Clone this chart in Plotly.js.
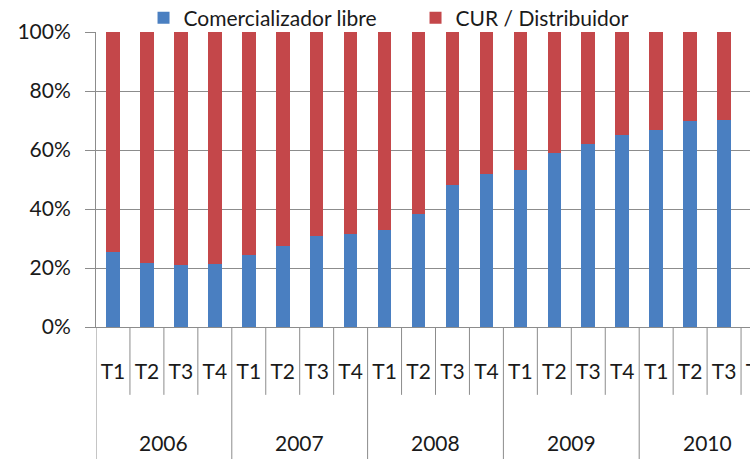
<!DOCTYPE html>
<html>
<head>
<meta charset="utf-8">
<script src="https://cdn.plot.ly/plotly-3.0.1.min.js"></script>
<style>
  html, body { margin: 0; padding: 0; overflow: hidden; background: #fff; }
  #chart { width: 800px; height: 459px; }
</style>
</head>
<body>
<div id="chart"></div>
<script>
// values (share of supply, %)
const years = ['2006', '2007', '2008', '2009', '2010'];
const quarters = ['T1', 'T2', 'T3', 'T4'];
const libre = [25.4, 21.7, 21.1, 21.3, 24.5, 27.6, 30.8, 31.6, 32.9, 38.3,
               48.2, 51.8, 53.1, 59.1, 61.9, 65.1, 66.9, 69.7, 70.3, 71.0];
const cur = libre.map(v => 100 - v);

const idx = libre.map((_, i) => i);
const tickText = idx.map(i => quarters[i % 4]);

const gray = '#8c8c8c';
const font = { family: 'Lato, "Open Sans", sans-serif', size: 21, color: '#1a1a1a' };

const libreTrace = {
    x: idx,
    y: libre,
    name: 'Comercializador libre',
    type: 'bar',
    marker: { color: '#4a7fc1' }
};

const curTrace = {
    x: idx,
    y: cur,
    name: 'CUR / Distribuidor',
    type: 'bar',
    marker: { color: '#c4474a' }
};

// separators under the x axis: short ones between quarters, long ones between years
const shapes = [];
for (let i = 0; i <= idx.length; i++) {
    const yearEdge = i % 4 === 0;
    shapes.push({
        type: 'line', xref: 'x', yref: 'paper',
        x0: i - 0.5, x1: i - 0.5,
        y0: 0, y1: yearEdge ? -0.5 : -0.23,
        line: { color: gray, width: 1 }
    });
}

const annotations = years.map((yr, k) => ({
    text: yr, xref: 'x', yref: 'paper',
    x: k * 4 + 1.5, y: -0.39, yanchor: 'middle',
    showarrow: false, font: font
}));

const layout = {
    width: 800,
    height: 459,
    margin: { t: 32, b: 132, l: 96, r: 25, pad: 0, autoexpand: false },
    paper_bgcolor: '#fff',
    plot_bgcolor: '#fff',
    font: font,
    barmode: 'stack',
    bargap: 0.6,
    showlegend: true,
    legend: {
        orientation: 'h',
        x: 0.07, xanchor: 'left',
        y: 1.047, yanchor: 'middle',
        traceorder: 'normal',
        bgcolor: 'rgba(0,0,0,0)',
        entrywidth: 227,
        font: font
    },
    xaxis: {
        type: 'linear',
        range: [-0.5, idx.length - 0.5],
        tickvals: idx,
        ticktext: tickText,
        ticks: '',
        ticklabelstandoff: 26,
        showgrid: false,
        zeroline: false,
        showline: true,
        linecolor: gray,
        tickfont: font
    },
    yaxis: {
        range: [0, 100],
        dtick: 20,
        ticksuffix: '%',
        ticks: 'outside',
        ticklen: 10,
        tickcolor: gray,
        ticklabelstandoff: 10,
        showgrid: true,
        gridcolor: gray,
        zeroline: false,
        showline: true,
        linecolor: gray,
        tickfont: font
    },
    shapes: shapes,
    annotations: annotations
};

Plotly.newPlot('chart', [libreTrace, curTrace], layout, { displayModeBar: false, staticPlot: true });
</script>
</body>
</html>
